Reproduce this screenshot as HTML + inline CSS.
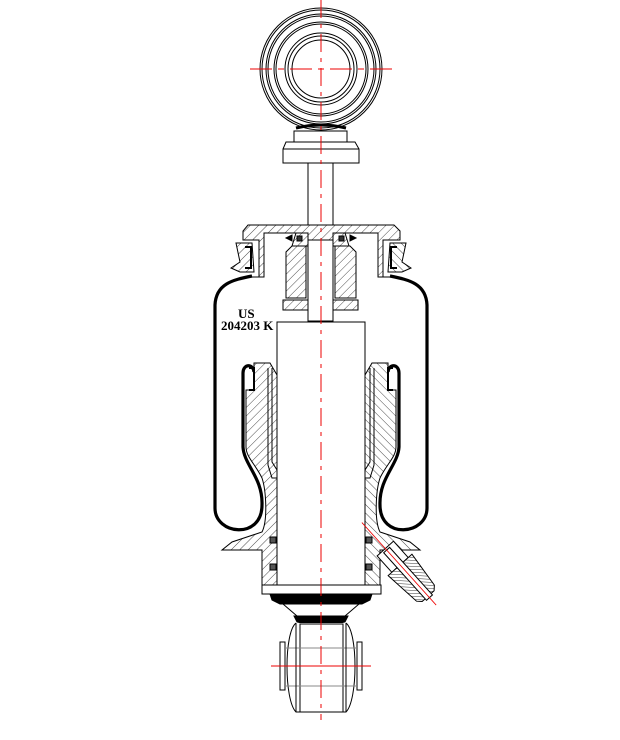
<!DOCTYPE html>
<html><head><meta charset="utf-8"><style>
html,body{margin:0;padding:0;background:#fff;width:620px;height:740px;overflow:hidden}
svg{display:block}
</style></head><body>
<svg width="620" height="740" viewBox="0 0 620 740" xmlns="http://www.w3.org/2000/svg">
<defs>
<pattern id="h" width="6" height="6" patternUnits="userSpaceOnUse" patternTransform="rotate(45)">
<rect width="6" height="6" fill="#fff"/><line x1="0" y1="0" x2="0" y2="6" stroke="#000" stroke-width="0.7"/>
</pattern>
<pattern id="h2" width="3" height="3" patternUnits="userSpaceOnUse" patternTransform="rotate(45)">
<rect width="3" height="3" fill="#fff"/><line x1="0" y1="0" x2="0" y2="3" stroke="#000" stroke-width="0.8"/>
</pattern>
<g id="half" fill="none" stroke="#000" stroke-width="1">
<path d="M236,243 L252,243 L254,272 L240,272 L231,268 L240,262 Z" fill="url(#h)"/>
<path d="M245,247 L251,247 L251,268 L245,268" stroke-width="2"/>
<path d="M252,276 C232,280 216,284 215,305 L215,508 C215,535 262,540 262,505 C263,478 244,465 243,447 L243,373 C243,364 253,363 254,372" stroke-width="3.2"/>
<path d="M254,363 L270,363 L277,375 L277,585 L262,585 L262,550 L222,550 L232,542 L262,532 C268,520 266,490 262,478 C256,465 246,457 246,447 L246,390 L254,390 Z" fill="url(#h)"/>
<path d="M249,368 L254,368 L254,390 L249,390" stroke-width="2"/>
<path d="M268,368 L268,465 L272,478 L277,478 M272,368 L272,462 L277,470"/>
<rect x="270" y="537" width="6" height="6" fill="#555"/>
<rect x="270" y="564" width="6" height="6" fill="#555"/>
</g>
</defs>

<g fill="none" stroke="#000" stroke-width="1">
<circle cx="321" cy="69" r="61"/><circle cx="321" cy="69" r="59"/>
<circle cx="321" cy="69" r="55"/><circle cx="321" cy="69" r="53"/>
<circle cx="321" cy="69" r="47"/><circle cx="321" cy="69" r="45"/>
<circle cx="321" cy="69" r="36"/><circle cx="321" cy="69" r="33"/><circle cx="321" cy="69" r="29"/>
<path d="M296,128 Q321,122 346,128" stroke-width="3"/>
<rect x="294" y="131" width="53" height="11" fill="#fff"/>
<path d="M286,142 L355,142 L359,149 L359,163 L283,163 L283,149 Z" fill="#fff"/>
<line x1="283" y1="149" x2="359" y2="149"/>
<rect x="308" y="163" width="25" height="158" fill="#fff"/>
</g>

<g fill="none" stroke="#000" stroke-width="1">
<path d="M248,225 L394,225 L400,231 L400,240 L383,240 L383,277 L378,277 L378,233 L333,233 L333,240 L308,240 L308,233 L264,233 L264,277 L259,277 L259,240 L243,240 L243,231 Z" fill="url(#h)"/>
<path d="M296,233 L308,233 L308,246 L292,246 Z" fill="url(#h)"/>
<path d="M345,233 L333,233 L333,246 L349,246 Z" fill="url(#h)"/>
<path d="M286,238 L292,235 L292,241 Z" fill="#000"/>
<path d="M356,238 L350,235 L350,241 Z" fill="#000"/>
<rect x="297" y="236" width="5" height="5" fill="#333"/><rect x="339" y="236" width="5" height="5" fill="#333"/>
<line x1="243" y1="277" x2="264" y2="277"/><line x1="378" y1="277" x2="399" y2="277"/>
<path d="M292,246 L306,246 L306,298 L286,298 L286,252 Z" fill="url(#h)"/>
<path d="M350,246 L335,246 L335,298 L356,298 L356,252 Z" fill="url(#h)"/>
<rect x="283" y="300" width="25" height="10" fill="url(#h)"/>
<rect x="333" y="300" width="25" height="10" fill="url(#h)"/>
<line x1="308" y1="246" x2="308" y2="321"/><line x1="333" y1="246" x2="333" y2="321"/>
<rect x="277" y="322" width="88" height="268" fill="#fff"/>
</g>

<use href="#half"/>
<use href="#half" transform="translate(642,0) scale(-1,1)"/>

<g transform="translate(392,556) rotate(48)" stroke="#000" stroke-width="1">
<rect x="-10" y="-11" width="22" height="22" fill="#fff"/>
<path d="M12,-16 L50,-12 L54,-8 L54,8 L50,12 L12,16 Z" fill="url(#h2)"/>
<rect x="-8" y="-4" width="64" height="8" fill="#fff"/>
<line x1="-45" y1="0" x2="66" y2="0" stroke="#e00" stroke-width="0.8"/>
</g>

<g stroke="#000" stroke-width="1">
<rect x="262" y="585" width="119" height="9" fill="#fff"/>
<path d="M270,594 L372,594 L370,600 L362,604 L280,604 L272,600 Z" fill="#000"/>
<path d="M283,604 L297,616 M359,604 L345,616" fill="none"/>
<path d="M294,616 L348,616 L345,622 L336,624 L306,624 L297,622 Z" fill="#000"/>
<path d="M296,623 C284,632 284,700 296,712 L346,712 C358,700 358,632 346,623" fill="#fff"/>
<rect x="300" y="624" width="43" height="88" fill="#fff"/>
<rect x="280" y="642" width="5" height="48" fill="#fff"/>
<rect x="357" y="642" width="5" height="48" fill="#fff"/>
<line x1="285" y1="648" x2="357" y2="648" stroke="#888"/>
<line x1="285" y1="686" x2="357" y2="686" stroke="#888"/>
<line x1="296" y1="623" x2="296" y2="712"/><line x1="346" y1="623" x2="346" y2="712"/>
</g>

<g stroke="#e00" stroke-width="1" fill="none">
<line x1="321" y1="0" x2="321" y2="720" stroke-dasharray="18,6,4,6"/>
<line x1="250" y1="69" x2="392" y2="69" stroke-dasharray="22,6,6,6"/>
<line x1="271" y1="666" x2="371" y2="666"/>
</g>

<text x="238" y="318" font-family="Liberation Serif, serif" font-weight="bold" font-size="13">US</text>
<text x="221" y="330" font-family="Liberation Serif, serif" font-weight="bold" font-size="13">204203 K</text>
</svg>
</body></html>
